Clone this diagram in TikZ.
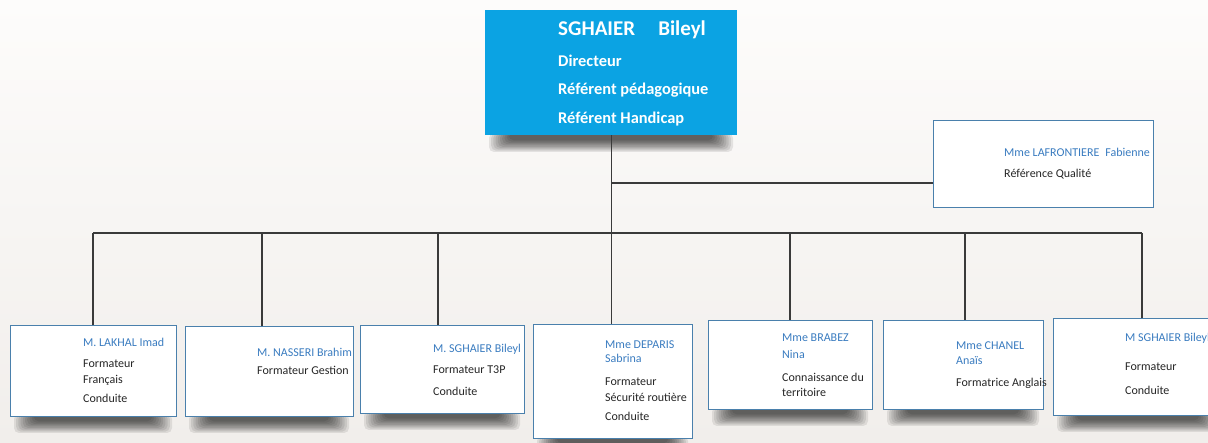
\documentclass[tikz,border=0pt]{standalone}
\usepackage{fontspec}
\setmainfont{Carlito}
\definecolor{bgtop}{HTML}{FDFCFB}
\definecolor{bgbot}{HTML}{F1EEEB}
\definecolor{chiefc}{HTML}{0BA3E3}
\definecolor{edgec}{HTML}{4A80AC}
\definecolor{namec}{HTML}{3A7CC0}
\definecolor{linec}{HTML}{3A3A3A}
\tikzset{
 card/.style={draw=edgec, line width=0.9pt, fill=white, inner sep=0, anchor=north west},
 chiefbox/.style={fill=chiefc, inner sep=0, anchor=north west},
 nm/.style={anchor=base west, inner sep=0, text=namec, font=\fontsize{12}{14}\selectfont},
 tx/.style={anchor=base west, inner sep=0, text=black!85, font=\fontsize{12}{14}\selectfont},
 ct/.style={anchor=base west, inner sep=0, text=white, font=\bfseries\fontsize{16.4}{19}\selectfont},
 link/.style={draw=linec, line width=1.1pt},
}
\newcommand\cardshadow[3]{%
 \foreach \k in {0,...,9}{
  \fill[black, opacity=0.085, rounded corners=5pt] ({#1+4+\k*2.2}, #3-2) rectangle ({#2-4-\k*2.2}, {#3+17-\k*1.3});
 }}
\begin{document}
\begin{tikzpicture}[x=1pt, y=-1pt]
\useasboundingbox (0,0) rectangle (1208,443);
\clip (0,0) rectangle (1208,443);
\shade[top color=bgtop, bottom color=bgbot] (0,0) rectangle (1208,443);

% shadows
\cardshadow{485}{737}{135}
\cardshadow{10}{176}{416}
\cardshadow{185}{353}{416}
\cardshadow{360}{524}{413}
\cardshadow{533}{692}{438}
\cardshadow{708}{872}{409}
\cardshadow{883}{1043}{409}
\cardshadow{1053}{1223}{415}

% boxes
\node[chiefbox, minimum width=252pt, minimum height=125pt] (chief) at (485,10) {};
\node[card, minimum width=220pt, minimum height=87pt] (laf) at (933,120) {};
\node[card, minimum width=166pt, minimum height=91pt] (b1) at (10,325) {};
\node[card, minimum width=168pt, minimum height=90pt] (b2) at (185,326) {};
\node[card, minimum width=164pt, minimum height=88pt] (b3) at (360,325) {};
\node[card, minimum width=159pt, minimum height=114pt] (b4) at (533,324) {};
\node[card, minimum width=164pt, minimum height=89pt] (b5) at (708,320) {};
\node[card, minimum width=160pt, minimum height=89pt] (b6) at (883,320) {};
\node[card, minimum width=170pt, minimum height=97pt] (b7) at (1053,318) {};

% connectors
\coordinate (j1) at (93,233);
\coordinate (j2) at (262,233);
\coordinate (j3) at (438,233);
\coordinate (j4) at (chief.south |- j1);
\coordinate (j5) at (790,233);
\coordinate (j6) at (965,233);
\coordinate (j7) at (1142,233);
\coordinate (k) at (chief.south |- 0,183);
\draw[link] (chief.south) -- (j4);
\draw[link] (k) -- (k -| laf.west);
\draw[link] (j1) -- (j7);
\draw[link] (j1) -- (j1 |- b1.north);
\draw[link] (j2) -- (j2 |- b2.north);
\draw[link] (j3) -- (j3 |- b3.north);
\draw[link] (j4) -- (j4 |- b4.north);
\draw[link] (j5) -- (j5 |- b5.north);
\draw[link] (j6) -- (j6 |- b6.north);
\draw[link] (j7) -- (j7 |- b7.north);

% texts
\node[ct, font=\bfseries\fontsize{21}{24}\selectfont] (c1) at (558,36) {SGHAIER\hspace{1.1em}Bileyl};
\node[ct] (c2) at (558,67) {Directeur};
\node[ct] (c3) at (558,95) {Référent pédagogique};
\node[ct] (c4) at (558,124) {Référent Handicap};

\node[nm] (l1) at (1004,157) {Mme LAFRONTIERE\hspace{0.5em}Fabienne};
\node[tx] (l2) at (1004,178) {Référence Qualité};

\node[nm] (a1) at (83,347) {M. LAKHAL Imad};
\node[tx] (a2) at (83,368) {Formateur};
\node[tx] (a3) at (83,384) {Français};
\node[tx] (a4) at (83,403) {Conduite};

\node[nm] (d1) at (257,357) {M. NASSERI Brahim};
\node[tx] (d2) at (257,375) {Formateur Gestion};

\node[nm] (e1) at (433,353) {M. SGHAIER Bileyl};
\node[tx] (e2) at (433,374) {Formateur T3P};
\node[tx] (e3) at (433,396) {Conduite};

\node[nm] (f1) at (605,349) {Mme DEPARIS};
\node[nm] (f2) at (605,363) {Sabrina};
\node[tx] (f3) at (605,386) {Formateur};
\node[tx] (f4) at (605,402) {Sécurité routière};
\node[tx] (f5) at (605,421) {Conduite};

\node[nm] (g1) at (782,342) {Mme BRABEZ};
\node[nm] (g2) at (782,359) {Nina};
\node[tx] (g3) at (782,382) {Connaissance du};
\node[tx] (g4) at (782,397) {territoire};

\node[nm] (h1) at (956,350) {Mme CHANEL};
\node[nm] (h2) at (956,365) {Anaïs};
\node[tx] (h3) at (956,387) {Formatrice Anglais};

\node[nm] (i1) at (1125,342) {M SGHAIER Bileyl};
\node[tx] (i2) at (1125,371) {Formateur};
\node[tx] (i3) at (1125,395) {Conduite};
\end{tikzpicture}
\end{document}
